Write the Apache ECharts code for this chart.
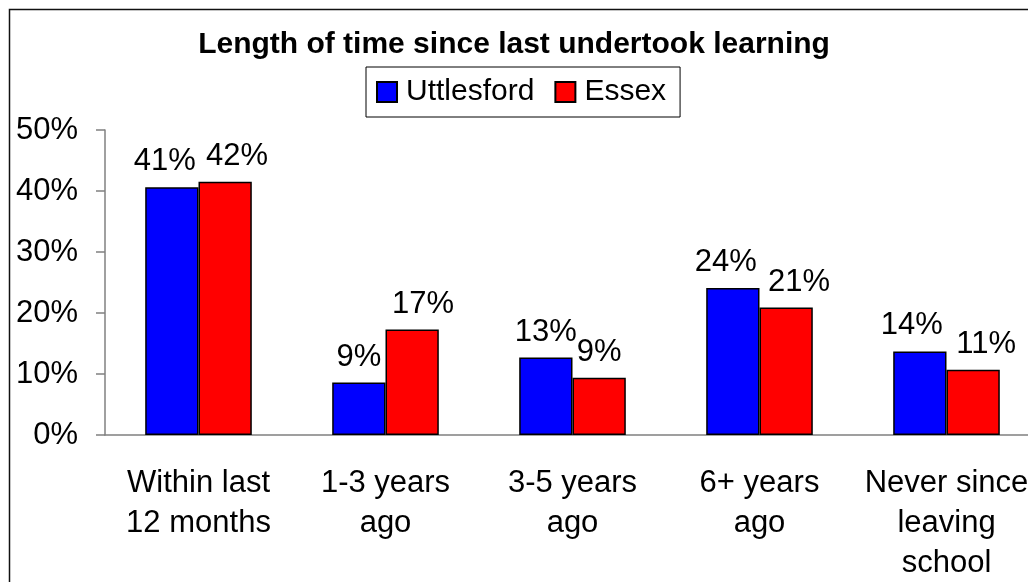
<!DOCTYPE html>
<html>
<head>
<meta charset="utf-8">
<script src="https://cdn.jsdelivr.net/npm/echarts@6/dist/echarts.min.js"></script>
<style>
html,body{margin:0;padding:0;background:#fff;}
#chart{width:1028px;height:582px;}
</style>
</head>
<body>
<div id="chart"></div>
<script>
var categories = ['Within last\n12 months', '1-3 years\nago', '3-5 years\nago', '6+ years\nago', 'Never since\nleaving\nschool'];
var uttlesford = [40.6, 8.6, 12.7, 24.1, 13.7];
var essex = [41.5, 17.3, 9.4, 20.9, 10.7];
var seriesNames = ['Uttlesford', 'Essex'];
var titleText = 'Length of time since last undertook learning';

// horizontal nudges of value labels (styling, as in the original)
var labelShiftU = [-7, 0, 0, -7, -8];
var labelShiftE = [12, 11, 0, 13, 13];

var FONT = '"Liberation Sans", Arial, sans-serif';
var chart = echarts.init(document.getElementById('chart'));

function labelCfg() {
  return {
    show: true,
    position: 'top',
    distance: 10,
    color: '#000',
    fontFamily: FONT,
    fontSize: 31,
    formatter: function (p) { return Math.round(p.value) + '%'; }
  };
}

function withShift(values, shifts) {
  return values.map(function (v, i) {
    return { value: v, label: { offset: [shifts[i], 0] } };
  });
}

chart.setOption({
  animation: false,
  backgroundColor: '#fff',
  textStyle: { fontFamily: FONT, color: '#000' },
  title: {
    text: titleText,
    left: 'center',
    top: 30,
    padding: 0,
    textStyle: { fontFamily: FONT, fontSize: 30, fontWeight: 'bold', color: '#000' }
  },
  legend: {
    left: 366,
    top: 67,
    padding: [10, 14, 10, 10],
    borderColor: '#000',
    borderWidth: 1,
    icon: 'rect',
    itemWidth: 20,
    itemHeight: 20,
    itemGap: 20,
    textStyle: { fontFamily: FONT, fontSize: 30, color: '#000', padding: [0, 0, 0, 4] },
    data: seriesNames
  },
  grid: {
    left: 105, width: 935, top: 130, bottom: 147,
    containLabel: false,
    outerBoundsMode: 'none'
  },
  xAxis: {
    type: 'category',
    data: categories,
    axisLine: { lineStyle: { color: '#808080', width: 1.5 } },
    axisTick: { length: 10, lineStyle: { color: '#333', width: 1.5 } },
    axisLabel: {
      interval: 0,
      margin: 28,
      fontFamily: FONT,
      fontSize: 31,
      lineHeight: 40,
      color: '#000',
      align: 'center',
      hideOverlap: false
    }
  },
  yAxis: {
    type: 'value',
    min: 0,
    max: 50,
    interval: 10,
    axisLine: { show: true, lineStyle: { color: '#808080', width: 1.5 } },
    axisTick: { show: true, length: 9, lineStyle: { color: '#808080', width: 1.5 } },
    splitLine: { show: false },
    axisLabel: {
      margin: 27,
      fontFamily: FONT,
      fontSize: 31,
      color: '#000',
      padding: [6, 0, 0, 0],
      formatter: '{value}%'
    }
  },
  series: [
    {
      name: seriesNames[0],
      type: 'bar',
      data: withShift(uttlesford, labelShiftU),
      barGap: '0%',
      barCategoryGap: '43%',
      itemStyle: { color: '#0000FF', borderColor: '#000', borderWidth: 1.5 },
      label: labelCfg()
    },
    {
      name: seriesNames[1],
      type: 'bar',
      data: withShift(essex, labelShiftE),
      barGap: '0%',
      barCategoryGap: '43%',
      itemStyle: { color: '#FF0000', borderColor: '#000', borderWidth: 1.5 },
      label: labelCfg()
    }
  ],
  graphic: [
    {
      type: 'rect',
      silent: true,
      z: -1,
      shape: { x: 9.5, y: 9.5, width: 1100, height: 700 },
      style: { fill: 'none', stroke: '#111', lineWidth: 1.5 }
    }
  ]
});
</script>
</body>
</html>
